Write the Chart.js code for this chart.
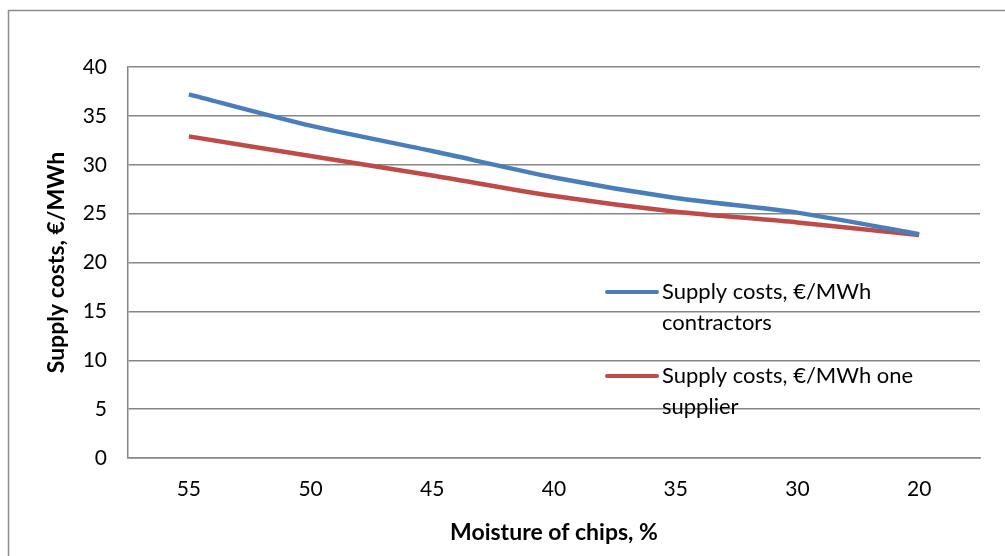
<!DOCTYPE html>
<html>
<head>
<meta charset="utf-8">
<script src="https://cdn.jsdelivr.net/npm/chart.js@4"></script>
<style>
  html, body { margin: 0; padding: 0; background: #fff; }
  #wrap { position: relative; width: 1005px; height: 556px; }
</style>
</head>
<body>
<div id="wrap"><canvas id="chart" width="1005" height="556"></canvas></div>
<script>
// Chart data
const moisture = ['55', '50', '45', '40', '35', '30', '20'];
const contractors = [37.2, 34.0, 31.4, 28.7, 26.6, 25.1, 22.9];
const oneSupplier = [32.9, 30.9, 28.9, 26.8, 25.2, 24.1, 22.8];
const seriesNames = ['Supply costs, €/MWh contractors', 'Supply costs, €/MWh one supplier'];

const FONT = 'Lato, "Open Sans", sans-serif';
const GRID = '#868686';

// outer frame
const framePlugin = {
  id: 'frame',
  beforeDraw(chart) {
    const c = chart.ctx;
    c.save();
    c.strokeStyle = '#8c8c8c';
    c.lineWidth = 1.5;
    c.strokeRect(8.5, 10.5, 1200, 700);
    c.restore();
  }
};

// legend sits inside the plot area, text wraps like the original
const sideLegend = {
  id: 'sideLegend',
  afterDraw(chart) {
    const c = chart.ctx;
    const rows = [292, 376];
    c.save();
    c.font = '22px ' + FONT;
    c.textBaseline = 'middle';
    chart.data.datasets.forEach((ds, i) => {
      const y = rows[i];
      c.strokeStyle = ds.borderColor;
      c.lineWidth = 4;
      c.lineCap = 'round';
      c.beginPath();
      c.moveTo(607, y);
      c.lineTo(657, y);
      c.stroke();
      const words = ds.label.split(' ');
      let lines = [], cur = '';
      for (let w of words) {
        const test = cur ? cur + ' ' + w : w;
        if (c.measureText(test).width > 290 && cur) { lines.push(cur); cur = w; }
        else cur = test;
      }
      lines.push(cur);
      c.fillStyle = '#000';
      lines.forEach((l, j) => c.fillText(l, 662, y + j * 31));
    });
    c.restore();
  }
};

const ctx = document.getElementById('chart');
const chart = new Chart(ctx, {
  type: 'line',
  data: {
    labels: moisture,
    datasets: [{
      label: seriesNames[0],
      data: contractors,
      borderColor: '#4A7EBB',
      borderWidth: 4.5,
      pointRadius: 0,
      tension: 0.25
    }, {
      label: seriesNames[1],
      data: oneSupplier,
      borderColor: '#BE4B48',
      borderWidth: 4.5,
      pointRadius: 0,
      tension: 0.25
    }]
  },
  options: {
    responsive: false,
    animation: false,
    layout: { padding: { left: 0, top: 67, right: 25, bottom: 0 } },
    plugins: {
      legend: { display: false },
      tooltip: { enabled: false }
    },
    scales: {
      x: {
        offset: true,
        grid: { display: false, drawTicks: false },
        border: { color: GRID, width: 1.5 },
        ticks: { color: '#000', font: { family: FONT, size: 21 }, padding: 19, maxRotation: 0 },
        title: {
          display: true, text: 'Moisture of chips, %', color: '#000',
          font: { family: FONT, size: 23, weight: 'bold' }, padding: { top: 10, bottom: 10 }
        },
        afterFit(scale) { scale.height = 98; }
      },
      y: {
        min: 0, max: 40,
        ticks: { stepSize: 5, color: '#000', font: { family: FONT, size: 21 }, padding: 21 },
        grid: { color: GRID, lineWidth: 1.5, drawTicks: false },
        border: { color: GRID, width: 1.5 },
        title: {
          display: true, text: 'Supply costs, €/MWh', color: '#000',
          font: { family: FONT, size: 23, weight: 'bold' }, padding: { top: 43 }
        },
        afterFit(scale) { scale.width = 128; }
      }
    }
  },
  plugins: [framePlugin, sideLegend]
});
</script>
</body>
</html>
